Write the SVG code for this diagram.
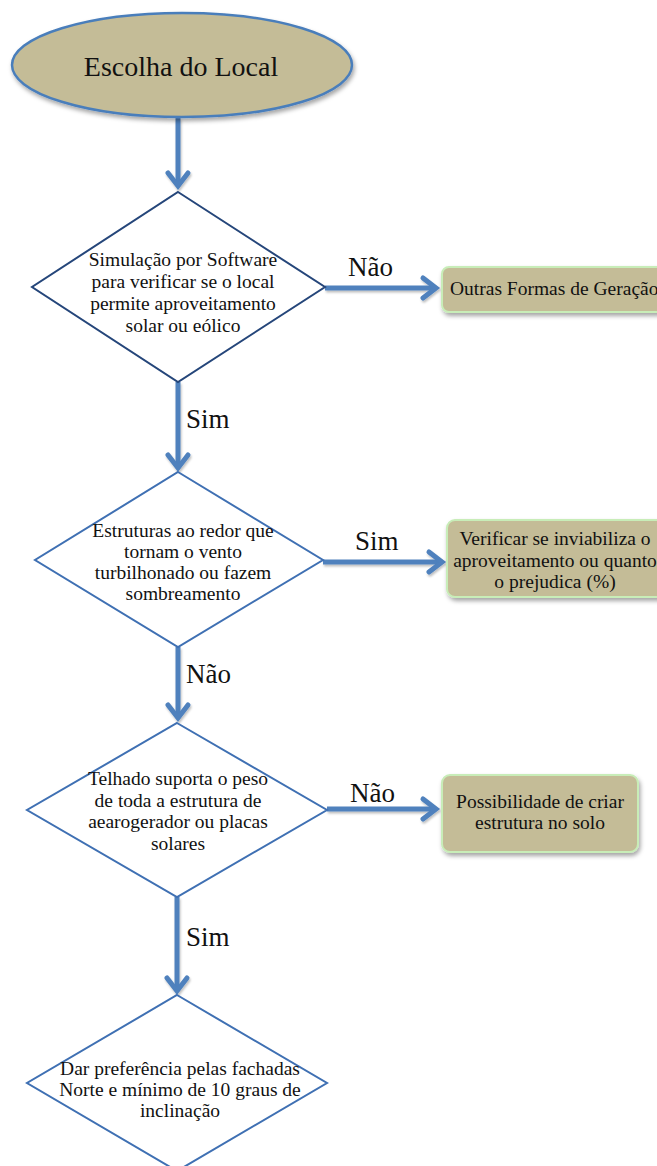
<svg xmlns="http://www.w3.org/2000/svg" width="657" height="1166" viewBox="0 0 657 1166">
<style>
text{font-family:"Liberation Serif","Times New Roman",serif;fill:#111;}
.t{font-size:19.5px;text-anchor:middle;}
.lbl{font-size:27px;}
.dia{fill:#fff;stroke:#3F70B3;stroke-width:2;}
.box{fill:#C4BC97;stroke:#C8EDB8;stroke-width:2;}
.con{stroke:#4F81BD;stroke-width:5;fill:none;}
</style>
<defs>
<marker id="ah" markerUnits="userSpaceOnUse" viewBox="-20 -15 30 30" markerWidth="30" markerHeight="30" refX="0" refY="0" orient="auto">
<path d="M-13,-10 L0,0 L-13,10" fill="none" stroke="#4F81BD" stroke-width="5" stroke-linecap="round" stroke-linejoin="miter"/>
</marker>
<filter id="sh" x="-10%" y="-10%" width="130%" height="140%">
<feDropShadow dx="1.5" dy="3" stdDeviation="2" flood-color="#000" flood-opacity="0.35"/>
</filter>
<filter id="sh2" x="-10%" y="-20%" width="130%" height="160%">
<feDropShadow dx="1" dy="2" stdDeviation="1.2" flood-color="#000" flood-opacity="0.25"/>
</filter>
</defs>
<rect width="657" height="1166" fill="#fff"/>

<g id="connectors" filter="url(#sh2)">
<line class="con" x1="178" y1="118" x2="178" y2="186" marker-end="url(#ah)"/>
<line class="con" x1="178" y1="382" x2="178" y2="468" marker-end="url(#ah)"/>
<line class="con" x1="178" y1="647" x2="178" y2="718" marker-end="url(#ah)"/>
<line class="con" x1="177" y1="897" x2="177" y2="991" marker-end="url(#ah)"/>
<line class="con" x1="325" y1="288" x2="436" y2="288" marker-end="url(#ah)"/>
<line class="con" x1="323" y1="562" x2="442" y2="562" marker-end="url(#ah)"/>
<line class="con" x1="327" y1="809" x2="436" y2="809" marker-end="url(#ah)"/>
</g>
<g id="labels">
<text class="lbl" x="348" y="276">Não</text>
<text class="lbl" x="186" y="428">Sim</text>
<text class="lbl" x="355" y="550">Sim</text>
<text class="lbl" x="186" y="683">Não</text>
<text class="lbl" x="350" y="802">Não</text>
<text class="lbl" x="186" y="946">Sim</text>
</g>

<g id="start">
<ellipse cx="182" cy="65" rx="170" ry="52" fill="#C4BC97" stroke="#4A7EBB" stroke-width="2.5" filter="url(#sh)"/>
<text x="181" y="76" style="font-size:28px;text-anchor:middle">Escolha do Local</text>
</g>

<g id="d1">
<polygon class="dia" points="178,192 325,287 178,382 32,287" style="stroke:#25467A"/>
<text class="t" x="183" y="266">Simulação por Software</text>
<text class="t" x="183" y="288">para verificar se o local</text>
<text class="t" x="183" y="310">permite aproveitamento</text>
<text class="t" x="183" y="332">solar ou eólico</text>
</g>

<g id="n_outras">
<rect class="box" x="442" y="267" width="230" height="45" rx="7" filter="url(#sh)"/>
<text x="450" y="295" style="font-size:19.5px">Outras Formas de Geração</text>
</g>

<g id="d2">
<polygon class="dia" points="178,472 323,560 178,647 35,560"/>
<text class="t" x="183" y="537">Estruturas ao redor que</text>
<text class="t" x="183" y="558">tornam o vento</text>
<text class="t" x="183" y="579">turbilhonado ou fazem</text>
<text class="t" x="183" y="600">sombreamento</text>
</g>

<g id="n_verificar">
<rect class="box" x="447" y="520" width="225" height="77" rx="8" filter="url(#sh)"/>
<text class="t" x="555" y="545">Verificar se inviabiliza o</text>
<text class="t" x="555" y="567">aproveitamento ou quanto</text>
<text class="t" x="555" y="588">o prejudica (%)</text>
</g>

<g id="d3">
<polygon class="dia" points="177,723 327,810 177,897 27,810"/>
<text class="t" x="178" y="785">Telhado suporta o peso</text>
<text class="t" x="178" y="807">de toda a estrutura de</text>
<text class="t" x="178" y="828">aearogerador ou placas</text>
<text class="t" x="178" y="850">solares</text>
</g>

<g id="n_solo">
<rect class="box" x="442" y="775" width="196" height="77" rx="8" filter="url(#sh)"/>
<text class="t" x="540" y="808">Possibilidade de criar</text>
<text class="t" x="540" y="829">estrutura no solo</text>
</g>

<g id="d4">
<polygon class="dia" points="177,995 327,1083 177,1171 27,1083"/>
<text class="t" x="180" y="1075">Dar preferência pelas fachadas</text>
<text class="t" x="180" y="1096">Norte e mínimo de 10 graus de</text>
<text class="t" x="180" y="1117">inclinação</text>
</g>
</svg>
